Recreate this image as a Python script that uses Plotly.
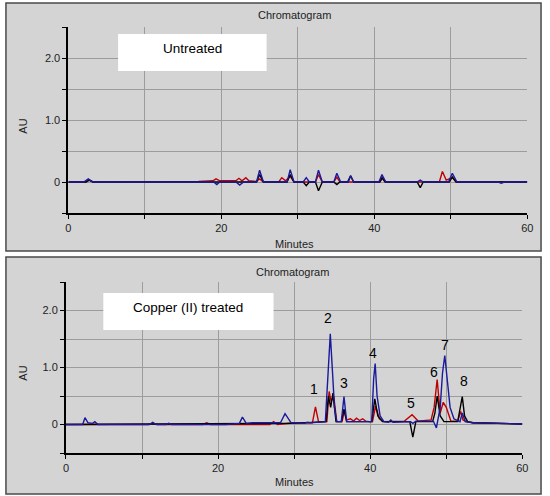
import plotly.graph_objects as go

# ---- data (minutes, AU) ----
top_blue_t = [0, 2.0, 2.6, 3.2, 4, 19.0, 19.4, 19.8, 21.9, 22.4, 22.9, 24.6, 25.0, 25.5,
              28.6, 29.0, 29.5, 30.7, 31.1, 31.5, 32.3, 32.7, 33.2, 34.7, 35.1, 35.6,
              36.6, 36.9, 37.3, 40.6, 41.0, 41.5, 45.6, 46.0, 46.4, 49.7, 50.2, 50.8,
              56.2, 56.6, 57.0, 60]
top_blue_v = [0, 0, 0.05, 0, 0, 0, -0.04, 0, 0, -0.05, 0, 0, 0.19, 0,
              0, 0.2, 0, 0, 0.07, 0, 0, 0.19, 0, 0, 0.14, 0,
              0, 0.1, 0, 0, 0.12, 0, 0, 0.03, 0, 0, 0.14, 0,
              0, -0.02, 0, 0]

top_red_t = [0, 2.3, 2.7, 3.2, 17.0, 18.9, 19.3, 19.8, 21.9, 22.3, 22.7, 23.2, 23.6, 24.6,
             25.0, 25.5, 27.5, 27.9, 28.4, 29.0, 29.5, 32.3, 32.7, 33.2, 34.7, 35.1,
             35.5, 40.7, 41.1, 41.5, 48.5, 48.9, 49.4, 50.2, 50.7, 60]
top_red_v = [0, 0, 0.03, 0, 0.01, 0.02, 0.05, 0.02, 0.02, 0.06, 0.02, 0.07, 0.02, 0.01,
             0.05, 0, 0, 0.07, 0.02, 0.09, 0, 0, 0.12, 0, 0, 0.08,
             0, 0, 0.06, 0, 0, 0.17, 0.03, 0.07, 0, 0]

top_black_t = [0, 2.3, 2.7, 3.2, 24.6, 25.0, 25.5, 28.6, 29.0, 29.5, 30.7, 31.1, 31.5,
               32.3, 32.7, 33.2, 34.7, 35.1, 35.5, 36.5, 36.9, 37.3, 40.7, 41.0, 41.4,
               45.6, 46.0, 46.4, 49.8, 50.2, 50.7, 60]
top_black_v = [0, 0, 0.03, 0, 0, 0.12, 0, 0, 0.12, 0, 0, -0.06, 0,
               0, -0.14, 0, 0, -0.04, 0, 0, 0.1, 0, 0, 0.07, 0,
               0, -0.09, 0, 0, 0.08, 0, 0]

bot_blue_t = [0, 2.2, 2.5, 2.9, 3.5, 3.8, 4.2, 11.0, 11.4, 11.9, 13.2, 13.5, 13.9, 21,
              22.8, 23.2, 23.7, 24.5, 28.2, 28.8, 29.6, 31.4, 31.7, 32.1, 34.1, 34.45,
              34.75, 35.05, 35.3, 35.6, 36.2, 36.55, 36.9, 40.2, 40.45, 40.65, 40.9,
              41.3, 41.8, 42.4, 42.7, 43.0, 45.3, 45.6, 46.0, 48.3, 48.7, 49.2, 49.5,
              49.8, 50.1, 50.5, 51.0, 51.8, 52.1, 52.5, 53.5, 60]
bot_blue_v = [0, 0, 0.12, 0.03, 0.02, 0.05, 0, 0, 0.04, 0, 0, 0.02, 0, 0,
              0.02, 0.13, 0.02, 0.03, 0.03, 0.19, 0.03, 0.02, 0.04, 0.03, 0.05, 0.8,
              1.59, 0.9, 0.3, 0.05, 0.05, 0.49, 0.05, 0.05, 0.8, 1.07, 0.5,
              0.15, 0.05, 0.04, 0.08, 0.04, 0.05, 0.02, 0.06, 0.06, -0.06, 0.3, 0.9,
              1.21, 0.8, 0.3, 0.1, 0.05, 0.2, 0.05, 0.03, 0.01]

bot_red_t = [0, 10.8, 11.3, 12.0, 18, 18.5, 19.0, 26.8, 27.3, 27.8, 30, 32.4, 32.8, 33.2,
             34.3, 34.6, 34.85, 35.2, 35.6, 36.3, 36.6, 36.9, 37.4, 37.8, 38.2, 38.6,
             39.0, 39.4, 39.9, 40.3, 40.7, 41.2, 41.8, 44.5, 45.5, 46.3, 48.0, 48.4,
             48.8, 49.2, 49.6, 50.0, 50.6, 51.5, 51.9, 52.2, 52.6, 53.5, 60]
bot_red_v = [0, 0, 0.02, 0, 0, 0.03, 0, 0, 0.05, 0, 0.03, 0.03, 0.31, 0.05,
             0.05, 0.58, 0.4, 0.5, 0.05, 0.05, 0.24, 0.08, 0.1, 0.06, 0.11, 0.07,
             0.1, 0.06, 0.05, 0.05, 0.32, 0.1, 0.05, 0.06, 0.17, 0.06, 0.08, 0.3,
             0.79, 0.2, 0.39, 0.3, 0.06, 0.06, 0.23, 0.08, 0.05, 0.03, 0.01]

bot_black_t = [0, 30, 34.2, 34.5, 34.8, 35.1, 35.5, 36.2, 36.55, 36.9, 40.2, 40.6, 41.0,
               41.6, 45.2, 45.6, 46.0, 48.2, 48.5, 48.8, 49.2, 49.7, 51.5, 51.8, 52.1,
               52.4, 52.8, 53.5, 60]
bot_black_v = [0, 0.02, 0.05, 0.5, 0.3, 0.55, 0.05, 0.05, 0.27, 0.05, 0.05, 0.45, 0.15,
               0.05, 0.05, -0.22, 0.05, 0.05, 0.2, 0.5, 0.15, 0.05, 0.05, 0.25, 0.49,
               0.15, 0.05, 0.03, 0.01]

peak_labels = ["1", "2", "3", "4", "5", "6", "7", "8"]
peak_label_t = [32.6, 34.5, 36.5, 40.4, 45.4, 48.4, 49.8, 52.3]
peak_label_v = [0.63, 1.87, 0.73, 1.25, 0.37, 0.92, 1.39, 0.77]

x_ticks = [0, 10, 20, 30, 40, 50, 60]
x_tick_text = ["0", "", "20", "", "40", "", "60"]
y_ticks = [-0.5, 0, 0.5, 1.0, 1.5, 2.0, 2.5]
y_tick_text = ["", "0", "", "1.0", "", "2.0", ""]

W, H = 550, 496
PANEL = "#d4d4d4"
RED, BLACK, BLUE = "#c00000", "#000000", "#1a1a9c"


def px(x):
    return x / W


def py(y):
    return 1 - y / H


fig = go.Figure()

for xa, ya, series in [
    ("x", "y", [(top_red_t, top_red_v, RED), (top_black_t, top_black_v, BLACK),
                (top_blue_t, top_blue_v, BLUE)]),
    ("x2", "y2", [(bot_red_t, bot_red_v, RED), (bot_black_t, bot_black_v, BLACK),
                  (bot_blue_t, bot_blue_v, BLUE)]),
]:
    for t, v, c in series:
        fig.add_trace(go.Scatter(x=t, y=v, mode="lines", xaxis=xa, yaxis=ya,
                                 line=dict(color=c, width=1.4), showlegend=False,
                                 hoverinfo="skip"))

axis_common = dict(showgrid=True, gridcolor="#9c9c9c", gridwidth=1, zeroline=False,
                   showline=True, linecolor="black", linewidth=2, ticks="outside",
                   ticklen=4, tickcolor="black", tickwidth=1,
                   tickfont=dict(family="Liberation Sans, Arial", size=11, color="#222"))

fig.update_layout(
    width=W, height=H, margin=dict(l=0, r=0, t=0, b=0),
    paper_bgcolor="white", plot_bgcolor=PANEL,
    xaxis=dict(domain=[px(66.5), px(533)], range=[0, 60], tickvals=x_ticks,
               ticktext=x_tick_text, anchor="y", **axis_common),
    yaxis=dict(domain=[py(213), py(27)], range=[-0.5, 2.5], tickvals=y_ticks,
               ticktext=y_tick_text, anchor="x", **axis_common),
    xaxis2=dict(domain=[px(64), px(528)], range=[0, 60], tickvals=x_ticks,
                ticktext=x_tick_text, anchor="y2", **axis_common),
    yaxis2=dict(domain=[py(453), py(282)], range=[-0.5, 2.5], tickvals=y_ticks,
                ticktext=y_tick_text, anchor="x2", **axis_common),
)

# panel frames and label boxes
for x0, y0, x1, y1 in [(3, 3, 547, 251), (3, 257, 547, 494)]:
    fig.add_shape(type="rect", xref="paper", yref="paper", x0=px(x0), x1=px(x1),
                  y0=py(y1), y1=py(y0), fillcolor=PANEL,
                  line=dict(color="#4a4a4a", width=1.5), layer="below")
for x0, y0, x1, y1 in [(117, 34, 268, 71), (102, 293, 275, 330)]:
    fig.add_shape(type="rect", xref="paper", yref="paper", x0=px(x0), x1=px(x1),
                  y0=py(y1), y1=py(y0), fillcolor="white", line=dict(width=0))

small = dict(family="Liberation Sans, Arial", size=11, color="#222")
box_font = dict(family="Liberation Sans, Arial", size=13.5, color="black")
notes = [
    (296, 15, "Chromatogram", small, 0),
    (294, 272, "Chromatogram", small, 0),
    (296, 244, "Minutes", small, 0),
    (296, 482, "Minutes", small, 0),
    (20, 126, "AU", small, -90),
    (20, 373, "AU", small, -90),
    (192.5, 49, "Untreated", box_font, 0),
    (188.5, 307, "Copper (II) treated", box_font, 0),
]
for x, y, txt, f, ang in notes:
    fig.add_annotation(x=px(x), y=py(y), xref="paper", yref="paper", text=txt,
                       showarrow=False, font=f, textangle=ang,
                       xanchor="center", yanchor="middle")

for lab, t, v in zip(peak_labels, peak_label_t, peak_label_v):
    fig.add_annotation(x=t, y=v, xref="x2", yref="y2", text=lab, showarrow=False,
                       font=dict(family="Liberation Sans, Arial", size=14, color="black"))

# page body has an 8px default margin; drop it so the figure sits at 0,0
fig.write_html("out.html", config={"displayModeBar": False},
               post_script="document.body.style.margin='0';")
